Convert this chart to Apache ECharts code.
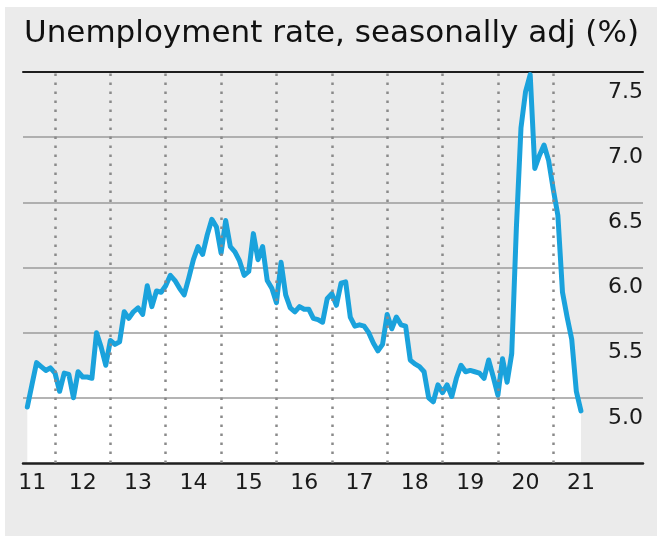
<!DOCTYPE html>
<html>
<head>
<meta charset="utf-8">
<script src="https://cdn.jsdelivr.net/npm/echarts@6/dist/echarts.min.js"></script>
<style>
  html, body { margin: 0; padding: 0; background: #ffffff; }
  #wrap { position: relative; width: 657px; height: 536px; overflow: hidden; }
  #chart { position: absolute; left: 5px; top: 7px; width: 652px; height: 529px; }
</style>
</head>
<body>
<div id="wrap"><div id="chart"></div></div>
<script>
// Monthly unemployment rate, seasonally adjusted (%), June 2011 to June 2021
const startYear = 2011;
const startMonth = 6;
const rate2011 = [4.93, 5.10, 5.27, 5.24, 5.21, 5.23, 5.19];
const rate2012 = [5.05, 5.19, 5.18, 5.00, 5.20, 5.16, 5.16, 5.15, 5.50, 5.39, 5.25, 5.44];
const rate2013 = [5.41, 5.43, 5.66, 5.61, 5.66, 5.69, 5.64, 5.86, 5.70, 5.82, 5.81, 5.86];
const rate2014 = [5.94, 5.90, 5.84, 5.79, 5.92, 6.06, 6.16, 6.10, 6.25, 6.37, 6.31, 6.11];
const rate2015 = [6.36, 6.16, 6.12, 6.05, 5.94, 5.97, 6.26, 6.06, 6.16, 5.90, 5.84, 5.73];
const rate2016 = [6.04, 5.79, 5.69, 5.66, 5.70, 5.68, 5.68, 5.61, 5.60, 5.58, 5.76, 5.80];
const rate2017 = [5.71, 5.88, 5.89, 5.62, 5.55, 5.56, 5.55, 5.50, 5.42, 5.36, 5.41, 5.64];
const rate2018 = [5.53, 5.62, 5.56, 5.55, 5.29, 5.26, 5.24, 5.20, 5.00, 4.97, 5.10, 5.04];
const rate2019 = [5.10, 5.01, 5.15, 5.25, 5.20, 5.21, 5.20, 5.19, 5.15, 5.29, 5.16, 5.02];
const rate2020 = [5.30, 5.12, 5.34, 6.30, 7.07, 7.35, 7.48, 6.76, 6.86, 6.94, 6.82, 6.60];
const rate2021 = [6.40, 5.81, 5.62, 5.45, 5.05, 4.90];

// Year tick labels (centred on each year) and year boundaries (dotted dividers)
const yearLabels = ['11', '12', '13', '14', '15', '16', '17', '18', '19', '20', '21'];
const dividerYears = [2012, 2013, 2014, 2015, 2016, 2017, 2018, 2019, 2020, 2021];
const yMin = 4.5, yMax = 7.5, yStep = 0.5;

const rates = [].concat(rate2011, rate2012, rate2013, rate2014, rate2015,
  rate2016, rate2017, rate2018, rate2019, rate2020, rate2021);

// each month is placed at the end of that month on a fractional-year scale
const points = rates.map(function (v, i) {
  const idx = startMonth - 1 + i;
  const year = startYear + Math.floor(idx / 12);
  const month = (idx % 12) + 1;
  return [year + month / 12, v];
});
const labelValues = yearLabels.map(function (s) { return 2000 + Number(s) + 0.5; });

const xMin = 2011.422, xMax = 2022.621;
const tickFont = 'DejaVu Sans';
const lineBlue = '#1aa2dc';

const chart = echarts.init(document.getElementById('chart'), null, { renderer: 'canvas' });
chart.setOption({
  backgroundColor: '#ebebeb',
  animation: false,
  graphic: [{
    type: 'text',
    left: 19,
    top: 11,
    style: {
      text: 'Unemployment rate, seasonally adj (%)',
      font: '31px "DejaVu Sans"',
      fill: '#111111'
    }
  }],
  grid: { left: 18, right: 14, top: 65, bottom: 73 },
  xAxis: [{
    type: 'value',
    min: xMin,
    max: xMax,
    position: 'bottom',
    z: 2,
    axisLine: { show: true, lineStyle: { color: '#1e1e1e', width: 2.5 } },
    axisTick: { show: false },
    splitLine: { show: false },
    axisLabel: {
      customValues: labelValues,
      margin: 9,
      color: '#1a1a1a',
      fontFamily: tickFont,
      fontSize: 22,
      formatter: function (v) {
        const i = labelValues.indexOf(v);
        const s = i >= 0 ? yearLabels[i] : '';
        return i === 0 ? '{first|' + s + '}' : s;
      },
      rich: {
        first: { padding: [0, 0, 0, 10], fontFamily: tickFont, fontSize: 22, color: '#1a1a1a' }
      }
    }
  }, {
    type: 'value',
    min: xMin,
    max: xMax,
    position: 'top',
    z: 2,
    axisLine: { show: true, lineStyle: { color: '#1e1e1e', width: 2 } },
    axisTick: { show: false },
    axisLabel: { show: false },
    splitLine: { show: false }
  }],
  yAxis: {
    type: 'value',
    position: 'right',
    min: yMin,
    max: yMax,
    interval: yStep,
    z: 2,
    axisLine: { show: false },
    axisTick: { show: false },
    axisLabel: {
      inside: true,
      margin: 0,
      showMinLabel: false,
      color: '#1a1a1a',
      fontFamily: tickFont,
      fontSize: 22,
      lineHeight: 22,
      verticalAlign: 'top',
      padding: [9, 0, 0, 0],
      formatter: function (v) { return v.toFixed(1); }
    },
    splitLine: {
      show: true,
      showMinLine: false,
      showMaxLine: false,
      lineStyle: { color: '#9b9b9b', width: 1.5 }
    }
  },
  series: [{
    name: 'fill',
    type: 'line',
    data: points,
    z: 1,
    silent: true,
    showSymbol: false,
    lineStyle: { width: 0 },
    areaStyle: { color: '#ffffff', opacity: 1, origin: 'start' }
  }, {
    name: 'dividers',
    type: 'line',
    data: [],
    z: 3,
    silent: true,
    markLine: {
      silent: true,
      symbol: ['none', 'none'],
      label: { show: false },
      lineStyle: { color: '#8a8a8a', width: 2.5, type: [2.5, 6.5] },
      emphasis: { disabled: true },
      data: dividerYears.map(function (y) { return { xAxis: y }; })
    }
  }, {
    name: 'rate',
    type: 'line',
    data: points,
    z: 4,
    showSymbol: false,
    lineStyle: { color: lineBlue, width: 5, cap: 'round', join: 'round' }
  }]
});
</script>
</body>
</html>
